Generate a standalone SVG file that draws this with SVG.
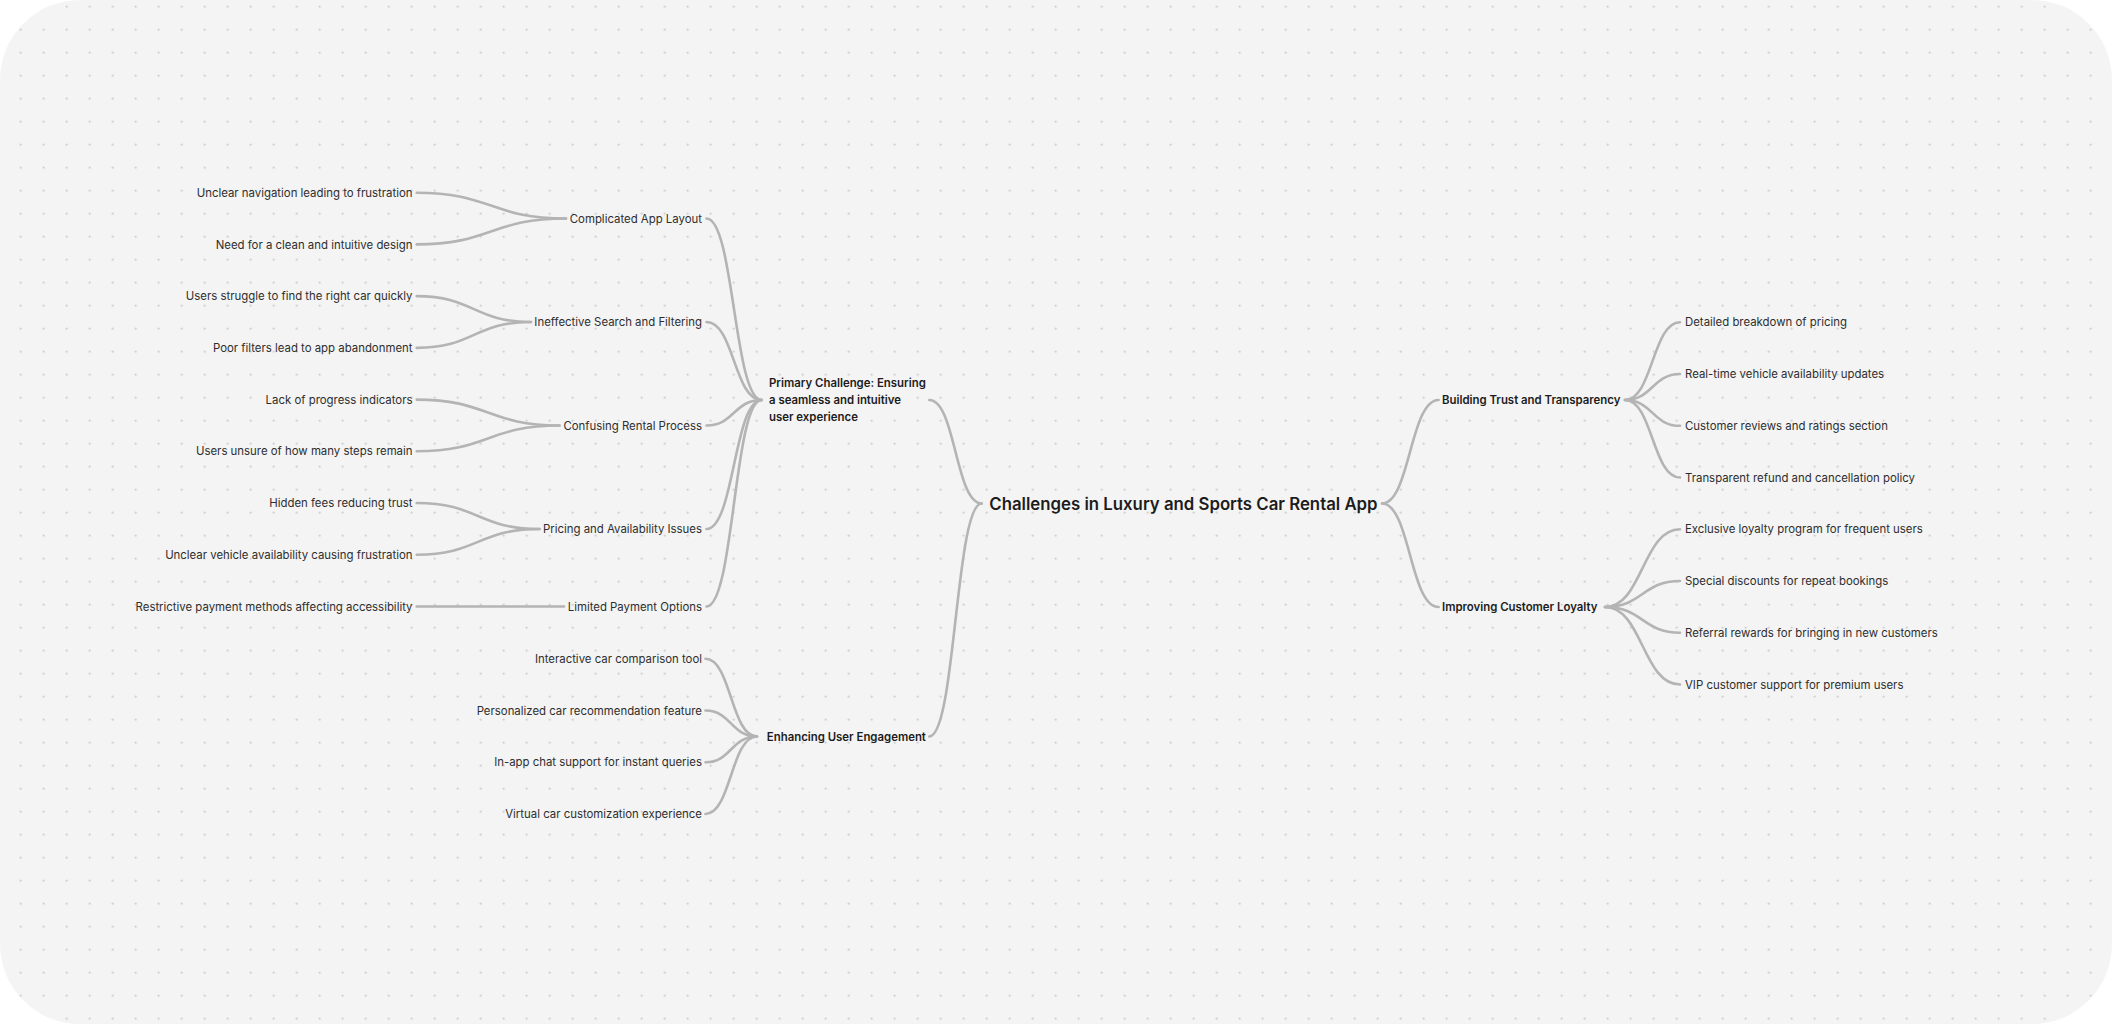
<svg xmlns="http://www.w3.org/2000/svg" width="2112" height="1024" viewBox="0 0 2112 1024">
<defs>
<pattern id="dots" patternUnits="userSpaceOnUse" x="9.2" y="-4.8" width="23" height="23">
<circle cx="11.5" cy="11.5" r="1.1" fill="#c8c8c8"/>
</pattern>
<style>
.t{font-family:Inter,"Noto Sans",sans-serif;font-size:11.4px;fill:#2e2e2e}
.b{font-family:Inter,"Noto Sans",sans-serif;font-size:11.4px;font-weight:600;fill:#1c1c1c}
.m{font-family:Inter,"Noto Sans",sans-serif;font-size:16.8px;font-weight:600;fill:#1c1c1c}
.e{text-anchor:end}
.c path{fill:none;stroke:#b4b4b4;stroke-width:2.6;stroke-linecap:round}
</style>
</defs>
<rect width="2112" height="1024" fill="#ffffff"/>
<rect width="2112" height="1024" rx="80" ry="80" fill="#f4f4f4"/>
<rect width="2112" height="1024" rx="80" ry="80" fill="url(#dots)"/>

<g class="c" id="connectors">
<path d="M416.7 192.7 C491 192.7 491 218.5 566 218.5"/>
<path d="M416.7 244.4 C491 244.4 491 218.5 566 218.5"/>
<path d="M416.7 296.1 C474 296.1 474 322 531 322"/>
<path d="M416.7 347.9 C474 347.9 474 322 531 322"/>
<path d="M416.7 399.6 C488 399.6 488 425.5 559.5 425.5"/>
<path d="M416.7 451.3 C488 451.3 488 425.5 559.5 425.5"/>
<path d="M416.7 503 C478 503 478 529 539.6 529"/>
<path d="M416.7 554.8 C478 554.8 478 529 539.6 529"/>
<path d="M416.7 606.5 L564 606.5"/>
<path d="M706.5 218.5 C734 218.5 734 400 761.7 400"/>
<path d="M706.5 322 C734 322 734 400 761.7 400"/>
<path d="M706.5 425.5 C734 425.5 734 400 761.7 400"/>
<path d="M706.5 529 C734 529 734 400 761.7 400"/>
<path d="M706.5 606.5 C734 606.5 734 400 761.7 400"/>
<path d="M705.5 658.8 C731 658.8 731 736.5 757 736.5"/>
<path d="M705.5 710.5 C731 710.5 731 736.5 757 736.5"/>
<path d="M705.5 762.3 C731 762.3 731 736.5 757 736.5"/>
<path d="M705.5 814 C731 814 731 736.5 757 736.5"/>
<path d="M929.3 400 C955.5 400 955.5 503.5 981.7 503.5"/>
<path d="M929.3 736.5 C955.5 736.5 955.5 503.5 981.7 503.5"/>
<path d="M1382 503.5 C1410 503.5 1410 400 1438.6 400"/>
<path d="M1382 503.5 C1410 503.5 1410 607 1438.6 607"/>
<path d="M1625 400 C1652.5 400 1652.5 322.3 1680 322.3"/>
<path d="M1625 400 C1652.5 400 1652.5 374 1680 374"/>
<path d="M1625 400 C1652.5 400 1652.5 425.8 1680 425.8"/>
<path d="M1625 400 C1652.5 400 1652.5 477.5 1680 477.5"/>
<path d="M1605 607 C1642.5 607 1642.5 529.3 1680 529.3"/>
<path d="M1605 607 C1642.5 607 1642.5 581 1680 581"/>
<path d="M1605 607 C1642.5 607 1642.5 632.8 1680 632.8"/>
<path d="M1605 607 C1642.5 607 1642.5 684.5 1680 684.5"/>
</g>

<g id="root"><text class="m" x="989.3" y="509.5">Challenges in Luxury and Sports Car Rental App</text></g>

<g id="primary"><text class="b" x="769" y="387.3">Primary Challenge: Ensuring</text><text class="b" x="769" y="404.2">a seamless and intuitive</text><text class="b" x="769" y="421.3">user experience</text></g>
<g id="engagement"><text class="b" x="766.8" y="740.6">Enhancing User Engagement</text></g>
<g id="trust"><text class="b" x="1442" y="404.1">Building Trust and Transparency</text></g>
<g id="loyalty"><text class="b" x="1442" y="611.1">Improving Customer Loyalty</text></g>

<g id="cat-layout"><text class="t e" x="702" y="222.6">Complicated App Layout</text></g>
<g id="cat-search"><text class="t e" x="702" y="326.1">Ineffective Search and Filtering</text></g>
<g id="cat-rental"><text class="t e" x="702" y="429.6">Confusing Rental Process</text></g>
<g id="cat-pricing"><text class="t e" x="702" y="533.1">Pricing and Availability Issues</text></g>
<g id="cat-payment"><text class="t e" x="702" y="610.6">Limited Payment Options</text></g>

<g id="leaf-1"><text class="t e" x="412.5" y="196.8">Unclear navigation leading to frustration</text></g>
<g id="leaf-2"><text class="t e" x="412.5" y="248.5">Need for a clean and intuitive design</text></g>
<g id="leaf-3"><text class="t e" x="412.5" y="300.2">Users struggle to find the right car quickly</text></g>
<g id="leaf-4"><text class="t e" x="412.5" y="352">Poor filters lead to app abandonment</text></g>
<g id="leaf-5"><text class="t e" x="412.5" y="403.7">Lack of progress indicators</text></g>
<g id="leaf-6"><text class="t e" x="412.5" y="455.4">Users unsure of how many steps remain</text></g>
<g id="leaf-7"><text class="t e" x="412.5" y="507.1">Hidden fees reducing trust</text></g>
<g id="leaf-8"><text class="t e" x="412.5" y="558.9">Unclear vehicle availability causing frustration</text></g>
<g id="leaf-9"><text class="t e" x="412.5" y="610.6">Restrictive payment methods affecting accessibility</text></g>

<g id="eng-1"><text class="t e" x="702" y="662.9">Interactive car comparison tool</text></g>
<g id="eng-2"><text class="t e" x="702" y="714.6">Personalized car recommendation feature</text></g>
<g id="eng-3"><text class="t e" x="702" y="766.4">In-app chat support for instant queries</text></g>
<g id="eng-4"><text class="t e" x="702" y="818.1">Virtual car customization experience</text></g>

<g id="trust-1"><text class="t" x="1685" y="326.4">Detailed breakdown of pricing</text></g>
<g id="trust-2"><text class="t" x="1685" y="378.1">Real-time vehicle availability updates</text></g>
<g id="trust-3"><text class="t" x="1685" y="429.9">Customer reviews and ratings section</text></g>
<g id="trust-4"><text class="t" x="1685" y="481.6">Transparent refund and cancellation policy</text></g>

<g id="loyal-1"><text class="t" x="1685" y="533.4">Exclusive loyalty program for frequent users</text></g>
<g id="loyal-2"><text class="t" x="1685" y="585.1">Special discounts for repeat bookings</text></g>
<g id="loyal-3"><text class="t" x="1685" y="636.9">Referral rewards for bringing in new customers</text></g>
<g id="loyal-4"><text class="t" x="1685" y="688.6">VIP customer support for premium users</text></g>
</svg>
